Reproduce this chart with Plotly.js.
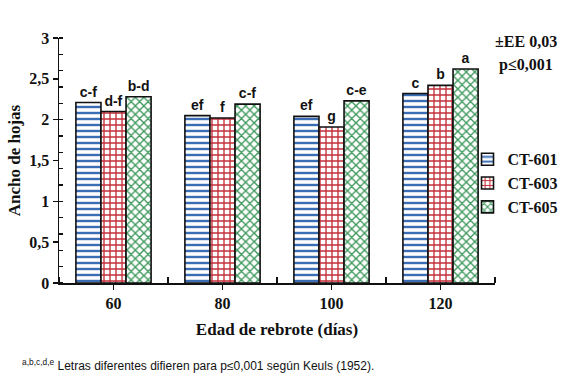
<!DOCTYPE html>
<html>
<head>
<meta charset="utf-8">
<script src="https://cdn.plot.ly/plotly-3.0.1.min.js"></script>
<style>html,body{margin:0;padding:0;background:#fff;}#chart{width:566px;height:378px;}</style>
</head>
<body>
<div id="chart"></div>
<script>
var categories = ["60", "80", "100", "120"];
var seriesNames = ["CT-601", "CT-603", "CT-605"];
var ct601 = [2.21, 2.05, 2.04, 2.32];
var ct603 = [2.10, 2.02, 1.91, 2.42];
var ct605 = [2.28, 2.19, 2.23, 2.62];
var letters601 = ["c-f", "ef", "ef", "c"];
var letters603 = ["d-f", "f", "g", "b"];
var letters605 = ["b-d", "c-f", "c-e", "a"];
var yTicks = [0, 0.5, 1, 1.5, 2, 2.5, 3];
var yTickText = ["0", "0,5", "1", "1,5", "2", "2,5", "3"];

var xIdx = categories.map(function(c, i){ return i; });
var serif = "Liberation Serif";
var sans = "Liberation Sans";

function mk(name, vals, txt, color, shape) {
  return {
    type: "bar", name: name, x: xIdx, y: vals, text: txt,
    textposition: "outside", cliponaxis: false,
    textfont: {family: sans, size: 14, color: "#111", weight: "bold"},
    marker: {
      color: "#ffffff",
      line: {color: "#111", width: 1.6},
      pattern: {shape: shape, fgcolor: color, bgcolor: "#ffffff", size: 6, solidity: 0.4}
    }
  };
}

var data = [
  mk(seriesNames[0], ct601, letters601, "#3a6db3", "-"),
  mk(seriesNames[1], ct603, letters603, "#c42f3a", "+"),
  mk(seriesNames[2], ct605, letters605, "#3d985c", "x")
];

var layout = {
  width: 566, height: 378,
  margin: {l: 59, r: 71, t: 38, b: 95, autoexpand: false},
  paper_bgcolor: "#fff", plot_bgcolor: "#fff",
  barmode: "group", bargap: 0.31, bargroupgap: 0,
  showlegend: true,
  legend: {xref: "container", yref: "container", x: 0.826, xanchor: "left", y: 0.515, yanchor: "middle",
    font: {family: serif, size: 16, color: "#111", weight: "bold"},
    itemwidth: 30, tracegroupgap: 4, bgcolor: "rgba(0,0,0,0)"},
  xaxis: {
    range: [-0.5, 3.5], tickvals: xIdx, ticktext: categories,
    showgrid: false, zeroline: false, showline: true, linecolor: "#111", linewidth: 1.5,
    ticks: "outside", ticklen: 5, tickcolor: "#111", tickwidth: 1.5,
    tickfont: {family: serif, size: 16, color: "#111", weight: "bold"},
    minor: {tick0: 0.5, dtick: 1, ticks: "inside", ticklen: 6, tickcolor: "#111", tickwidth: 1.5, showgrid: false},
    title: {text: "Edad de rebrote (días)", standoff: 12,
      font: {family: serif, size: 17, color: "#111", weight: "bold"}}
  },
  yaxis: {
    range: [0, 3], tickvals: yTicks, ticktext: yTickText,
    showgrid: false, zeroline: false, showline: true, linecolor: "#111", linewidth: 1.5,
    ticks: "outside", ticklen: 5, tickcolor: "#111", tickwidth: 1.5,
    tickfont: {family: serif, size: 16, color: "#111", weight: "bold"},
    minor: {dtick: 0.2, ticks: "inside", ticklen: 4, tickcolor: "#111", tickwidth: 1.2, showgrid: false},
    title: {text: "Ancho de hojas", standoff: 4,
      font: {family: serif, size: 17, color: "#111", weight: "bold"}}
  },
  annotations: [
    {xref: "paper", yref: "paper", x: 1.07, y: 0.984, xanchor: "center", yanchor: "middle", showarrow: false,
     text: "±EE 0,03", font: {family: serif, size: 16, color: "#111", weight: "bold"}},
    {xref: "paper", yref: "paper", x: 1.07, y: 0.89, xanchor: "center", yanchor: "middle", showarrow: false,
     text: "p≤0,001", font: {family: serif, size: 16, color: "#111", weight: "bold"}},
    {xref: "paper", yref: "paper", x: -0.09, y: -0.335, xanchor: "left", yanchor: "middle", showarrow: false,
     text: "<sup>a,b,c,d,e</sup> Letras diferentes difieren para p≤0,001 según Keuls (1952).",
     font: {family: sans, size: 12, color: "#111"}}
  ]
};

Plotly.newPlot("chart", data, layout, {displayModeBar: false, staticPlot: true});
</script>
</body>
</html>
